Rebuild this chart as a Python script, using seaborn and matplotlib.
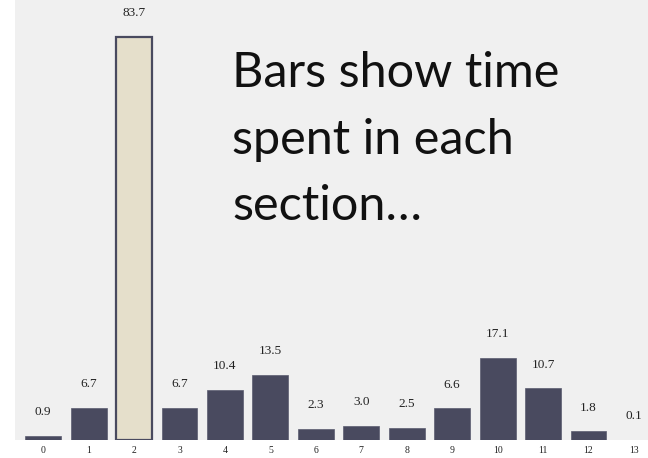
import numpy as np
import pandas as pd
import matplotlib
matplotlib.use("Agg")
import matplotlib.pyplot as plt
import seaborn as sns

# time spent per section
sections = [str(i) for i in range(14)]
times = [0.9, 6.7, 83.7, 6.7, 10.4, 13.5, 2.3, 3.0, 2.5, 6.6, 17.1, 10.7, 1.8, 0.1]
highlight = "2"
note_lines = ["Bars show time", "spent in each", "section…"]

df = pd.DataFrame({"section": sections, "time": times})

dark = "#494a5f"
beige = "#e5dfcb"
palette = {s: (beige if s == highlight else dark) for s in sections}

sns.set_style("white")
fig = plt.figure(figsize=(6.48, 4.58), dpi=100)
ax = fig.add_axes([15 / 648, 18 / 458, 633 / 648, 440 / 458])
ax.set_facecolor("#f0f0f0")

sns.barplot(data=df, x="section", y="time", hue="section", palette=palette,
            order=sections, width=0.79, legend=False, ax=ax, saturation=1)

for patch, s in zip(ax.patches, sections):
    if s == highlight:
        patch.set_edgecolor(dark)
        patch.set_linewidth(1.6)
    else:
        patch.set_edgecolor("#5b5c70")
        patch.set_linewidth(0.5)

for i, v in enumerate(times):
    ax.annotate(f"{v:.1f}", (i, v), xytext=(0, 17), textcoords="offset points",
                ha="center", va="center", fontsize=9.5,
                family="Liberation Serif", color="#222222")

ax.set_xlim(-0.62, 13.31)
ax.set_ylim(0, 91.3)
ax.set_xlabel("")
ax.set_ylabel("")
ax.set_yticks([])
for sp in ax.spines.values():
    sp.set_visible(False)
ax.tick_params(axis="x", length=0, pad=4, labelsize=7)
for lab in ax.get_xticklabels():
    lab.set_family("Liberation Serif")
    lab.set_color("#222222")

# annotation, one line at a time (baselines from the reference)
for k, line in enumerate(note_lines):
    fig.text(232 / 648, 1 - (87 + 66.5 * k) / 458, line,
             fontsize=35, family="Lato", color="#111111",
             ha="left", va="baseline")

fig.savefig("out.png", dpi=100)
